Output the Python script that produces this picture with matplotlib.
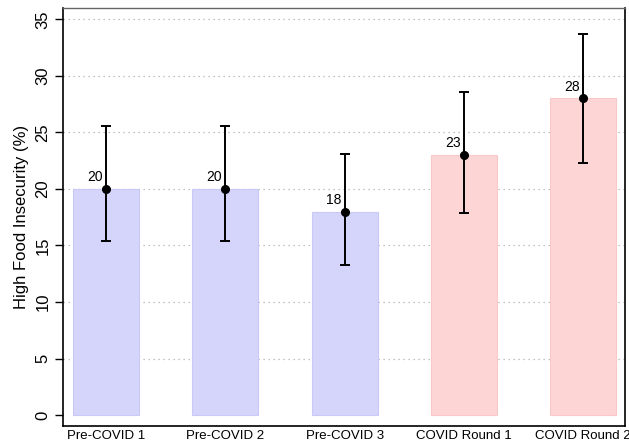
import matplotlib
matplotlib.use("Agg")
import matplotlib.pyplot as plt

categories = ["Pre-COVID 1", "Pre-COVID 2", "Pre-COVID 3", "COVID Round 1", "COVID Round 2"]
values = [20, 20, 18, 23, 28]
lower = [15.4, 15.4, 13.3, 17.9, 22.3]
upper = [25.6, 25.6, 23.1, 28.6, 33.7]
bar_colors = ["#d5d5fc", "#d5d5fc", "#d5d5fc", "#fdd5d5", "#fdd5d5"]
edge_colors = ["#c9c9f8", "#c9c9f8", "#c9c9f8", "#fac8c8", "#fac8c8"]

plt.rcParams['font.family'] = ['Liberation Sans', 'DejaVu Sans']

fig = plt.figure(figsize=(6.29, 4.44), dpi=100)
ax = fig.add_axes([0.1002, 0.0405, 0.8934, 0.9415])

x = list(range(len(categories)))
for yv in range(5, 40, 5):
    ax.axhline(yv, color="#b0b0b0", linestyle=(0, (1, 3)), linewidth=0.9, zorder=0)

ax.bar(x, values, width=0.553, color=bar_colors, edgecolor=edge_colors, linewidth=0.8, zorder=1)

yerr = [[v - l for v, l in zip(values, lower)], [u - v for v, u in zip(values, upper)]]
ax.errorbar(x, values, yerr=yerr, fmt="o", color="black", ms=5.5, elinewidth=1.4,
            capsize=3.5, capthick=1.4, zorder=3)

for xi, v in zip(x, values):
    ax.annotate(str(v), (xi, v), xytext=(-8, 3.5), textcoords="offset points",
                ha="center", va="bottom", fontsize=10)

ax.set_xlim(-0.36, 4.35)
ax.set_ylim(-0.97, 36.0)
ax.set_yticks(range(0, 40, 5))
ax.set_yticklabels([str(t) for t in range(0, 40, 5)], rotation=90, va="center", fontsize=12)
ax.set_xticks(x)
ax.set_xticklabels(categories, fontsize=9.5)
ax.tick_params(axis="x", length=0, pad=3)
ax.tick_params(axis="y", length=6, width=1, pad=3)
ax.set_ylabel("High Food Insecurity (%)", fontsize=12, labelpad=5)

for side in ["left", "right", "bottom"]:
    ax.spines[side].set_linewidth(1.2)
    ax.spines[side].set_color("black")
ax.spines["top"].set_color("#666666")
ax.spines["top"].set_linewidth(1.0)

fig.savefig("out.png", dpi=100)
